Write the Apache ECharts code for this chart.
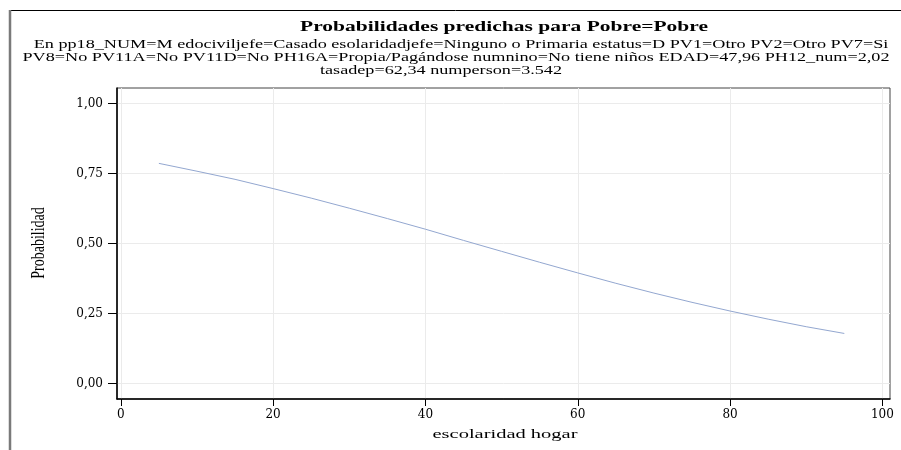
<!DOCTYPE html>
<html><head><meta charset="utf-8">
<script src="https://cdn.jsdelivr.net/npm/echarts@6/dist/echarts.min.js"></script>
<style>html,body{margin:0;padding:0;background:#fff}#c{width:901px;height:450px}</style>
</head><body><div id="c"></div>
<script>
// Data
var escolaridad = [5, 10, 15, 20, 25, 30, 35, 40, 45, 50, 55, 60, 65, 70, 75, 80, 85, 90, 95];
var probabilidad = [0.786, 0.758, 0.729, 0.696, 0.662, 0.626, 0.589, 0.551, 0.511, 0.472, 0.433, 0.395, 0.358, 0.323, 0.290, 0.259, 0.230, 0.203, 0.179];
var xTicks = [0, 20, 40, 60, 80, 100];
var yTicks = [0, 0.25, 0.5, 0.75, 1];
var titleText = 'Probabilidades predichas para Pobre=Pobre';
var subLines = [
  'En pp18_NUM=M edociviljefe=Casado esolaridadjefe=Ninguno o Primaria estatus=D PV1=Otro PV2=Otro PV7=Si',
  'PV8=No PV11A=No PV11D=No PH16A=Propia/Pagándose numnino=No tiene niños EDAD=47,96 PH12_num=2,02',
  'tasadep=62,34 numperson=3.542'
];
var xName = 'escolaridad hogar';
var yName = 'Probabilidad';

var ctx = document.createElement('canvas').getContext('2d');
function tw(text, font){ ctx.font = font; return ctx.measureText(text).width; }

var serif = '"Liberation Serif", "Times New Roman", serif';
var titleFont = 'bold 15px ' + serif;
var subFont = '12px ' + serif;
var xNameFont = '13px ' + serif;
var yNameFont = '14px ' + serif;

var titleScale = 408 / tw(titleText, titleFont);
var subScale = 867 / tw(subLines[1], subFont);
var xNameScale = 145 / tw(xName, xNameFont);

var chart = echarts.init(document.getElementById('c'), null, {renderer: 'canvas'});
var pairs = escolaridad.map(function(x, i){ return [x, probabilidad[i]]; });

function txt(x, y, s, font, sx, extra){
  var o = {type: 'text', x: x, y: y, scaleX: sx, style: {text: s, font: font, fill: '#000', textAlign: 'center', textVerticalAlign: 'middle'}, silent: true};
  if (extra) for (var k in extra) o[k] = extra[k];
  return o;
}

var graphics = [
  {type: 'line', shape: {x1: 10, y1: 10.5, x2: 901, y2: 10.5}, style: {stroke: '#000', lineWidth: 1}, silent: true},
  {type: 'line', shape: {x1: 10, y1: 10, x2: 10, y2: 450}, style: {stroke: '#7a7a7a', lineWidth: 2.5}, silent: true},
  txt(504, 27, titleText, titleFont, titleScale),
  txt(461, 45, subLines[0], subFont, subScale),
  txt(456, 58, subLines[1], subFont, subScale),
  txt(441, 71, subLines[2], subFont, subScale),
  txt(505, 435, xName, xNameFont, xNameScale),
  {type: 'text', x: 39, y: 243, rotation: Math.PI / 2, scaleY: 1.4, silent: true,
   style: {text: yName, font: yNameFont, fill: '#000', textAlign: 'center', textVerticalAlign: 'middle'}}
];

chart.setOption({
  animation: false,
  backgroundColor: '#fff',
  grid: {left: 117, top: 88, right: 11, bottom: 51, show: true, borderColor: '#444', borderWidth: 1, backgroundColor: 'transparent'},
  xAxis: {
    type: 'value', min: -0.5, max: 101,
    axisLine: {show: true, onZero: false, lineStyle: {color: '#000', width: 1.5}},
    axisTick: {show: true, length: 7, lineStyle: {color: '#000'}, customValues: xTicks},
    axisLabel: {color: '#000', fontFamily: '"DejaVu Serif", serif', fontSize: 12, margin: 10, customValues: xTicks},
    splitLine: {show: true, lineStyle: {color: '#ebebeb', width: 1}}
  },
  yAxis: {
    type: 'value', min: -0.055, max: 1.055,
    axisLine: {show: true, onZero: false, lineStyle: {color: '#000', width: 1.5}},
    axisTick: {show: true, length: 9, lineStyle: {color: '#000'}, customValues: yTicks},
    axisLabel: {color: '#000', fontFamily: '"DejaVu Serif", serif', fontSize: 12, margin: 14, customValues: yTicks,
      formatter: function(v){ return v.toFixed(2).replace('.', ','); }},
    splitLine: {show: true, lineStyle: {color: '#ebebeb', width: 1}}
  },
  series: [{
    type: 'line', data: pairs, showSymbol: false, symbol: 'none', smooth: false,
    lineStyle: {color: '#93a7d0', width: 1}, silent: true
  }],
  graphic: graphics
});
</script></body></html>
